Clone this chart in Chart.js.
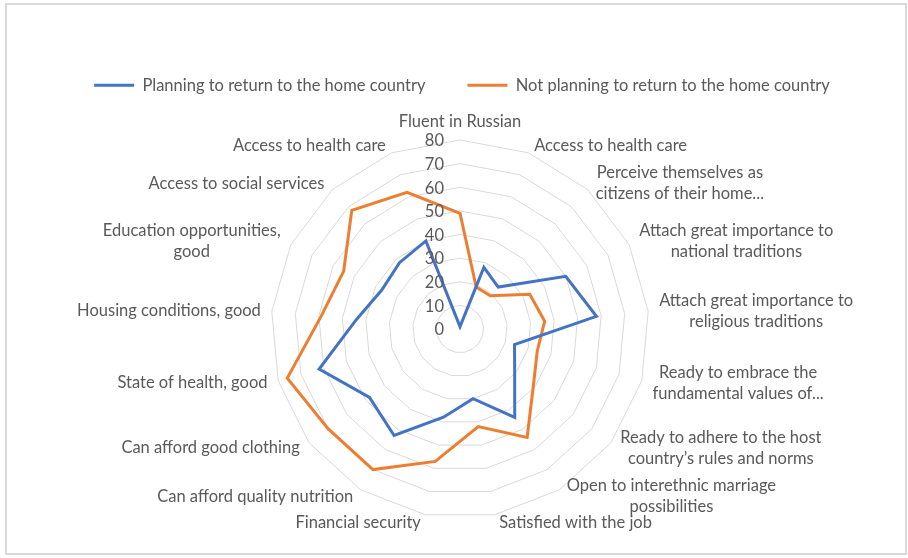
<!DOCTYPE html>
<html>
<head>
<meta charset="utf-8">
<script src="https://cdn.jsdelivr.net/npm/chart.js@4.4.0/dist/chart.umd.min.js"></script>
<style>
  html, body { margin: 0; padding: 0; background: #fff; }
  #frame { position: absolute; left: 5px; top: 3px; width: 902px; height: 552px; border: 2px solid #d9d9d9; box-sizing: border-box; }
  #wrap { position: absolute; left: 0; top: 0; width: 908px; height: 558px; }
</style>
</head>
<body>
<div id="frame"></div>
<div id="wrap"><canvas id="chart" width="908" height="558"></canvas></div>
<script>
var categories = [
  "Fluent in Russian",
  "Access to health care",
  ["Perceive themselves as", "citizens of their home..."],
  ["Attach great importance to", "national traditions"],
  ["Attach great importance to", "religious traditions"],
  ["Ready to embrace the", "fundamental values of..."],
  ["Ready to adhere to the host", "country\u2019s rules and norms"],
  ["Open to interethnic marriage", "possibilities"],
  "Satisfied with the job",
  "Financial security",
  "Can afford quality nutrition",
  "Can afford good clothing",
  "State of health, good",
  "Housing conditions, good",
  ["Education opportunities,", "good"],
  "Access to social services",
  "Access to health care"
];
var planning    = [1, 28, 24, 50, 58, 24, 29, 44, 30, 38, 53, 48, 62, 44, 37, 38, 40];
var notPlanning = [49, 19, 19, 33, 36, 34, 39, 54, 42, 57, 70, 70, 76, 59, 55, 68, 62];
var seriesNames = ["Planning to return to the home country", "Not planning to return to the home country"];
var axisMax = 80;
var axisStep = 10;

var textColor = "#595959";
var fontFamily = "Lato, 'Open Sans', sans-serif";

// excel-like geometry and labels, drawn on top of the radial scale
var radarFrame = {
  id: "radarFrame",
  afterLayout: function(chart) {
    var s = chart.scales.r;
    s.xCenter = 460;
    s.yCenter = 329;
    s.drawingArea = 189;
  },
  afterDraw: function(chart) {
    var s = chart.scales.r;
    var ctx = chart.ctx;
    ctx.save();
    ctx.font = "16.5px " + fontFamily;
    ctx.fillStyle = textColor;
    ctx.textBaseline = "middle";

    // value ticks, left of the vertical axis
    ctx.textAlign = "right";
    s.ticks.forEach(function(t) {
      var y = s.yCenter - s.getDistanceFromCenterForValue(t.value);
      ctx.fillText(String(t.value), s.xCenter - 16, y + 1);
    });

    // category labels
    var n = categories.length;
    var lineH = 21;
    ctx.textAlign = "center";
    for (var i = 0; i < n; i++) {
      var lines = Array.isArray(categories[i]) ? categories[i] : [categories[i]];
      var deg = i * 360 / n;
      var p = s.getPointPosition(i, s.drawingArea + 8);
      var w = 0;
      lines.forEach(function(l) { w = Math.max(w, ctx.measureText(l).width); });
      var h = lines.length * lineH;
      var x0;
      if (deg === 0 || deg === 180) x0 = p.x - w / 2;
      else if (deg < 180) x0 = p.x + 3;
      else x0 = p.x - 3 - w;
      var y0 = deg === 0 ? p.y - h : p.y - h / 2;
      for (var k = 0; k < lines.length; k++) {
        ctx.fillText(lines[k], x0 + w / 2, y0 + lineH * (k + 0.5));
      }
    }
    ctx.restore();
  }
};

var g = new Chart(document.getElementById("chart"), {
  type: "radar",
  data: {
    labels: categories,
    datasets: [
      {
        label: seriesNames[0],
        data: planning,
        borderColor: "#4472C4",
        backgroundColor: "#4472C4",
        borderWidth: 3,
        pointRadius: 0,
        fill: false,
        tension: 0
      },
      {
        label: seriesNames[1],
        data: notPlanning,
        borderColor: "#ED7D31",
        backgroundColor: "#ED7D31",
        borderWidth: 3,
        pointRadius: 0,
        fill: false,
        tension: 0
      }
    ]
  },
  options: {
    responsive: false,
    animation: false,
    layout: { padding: { top: 35, left: 16 } },
    plugins: {
      tooltip: { enabled: false },
      legend: {
        position: "top",
        labels: {
          usePointStyle: true,
          pointStyle: "line",
          pointStyleWidth: 40,
          color: textColor,
          padding: 42,
          font: { family: fontFamily, size: 16.5 }
        }
      }
    },
    scales: {
      r: {
        min: 0,
        max: axisMax,
        ticks: { stepSize: axisStep, display: false },
        angleLines: { display: false },
        grid: { color: "#d9d9d9", lineWidth: 1 },
        pointLabels: { display: false }
      }
    }
  },
  plugins: [radarFrame]
});
</script>
</body>
</html>
